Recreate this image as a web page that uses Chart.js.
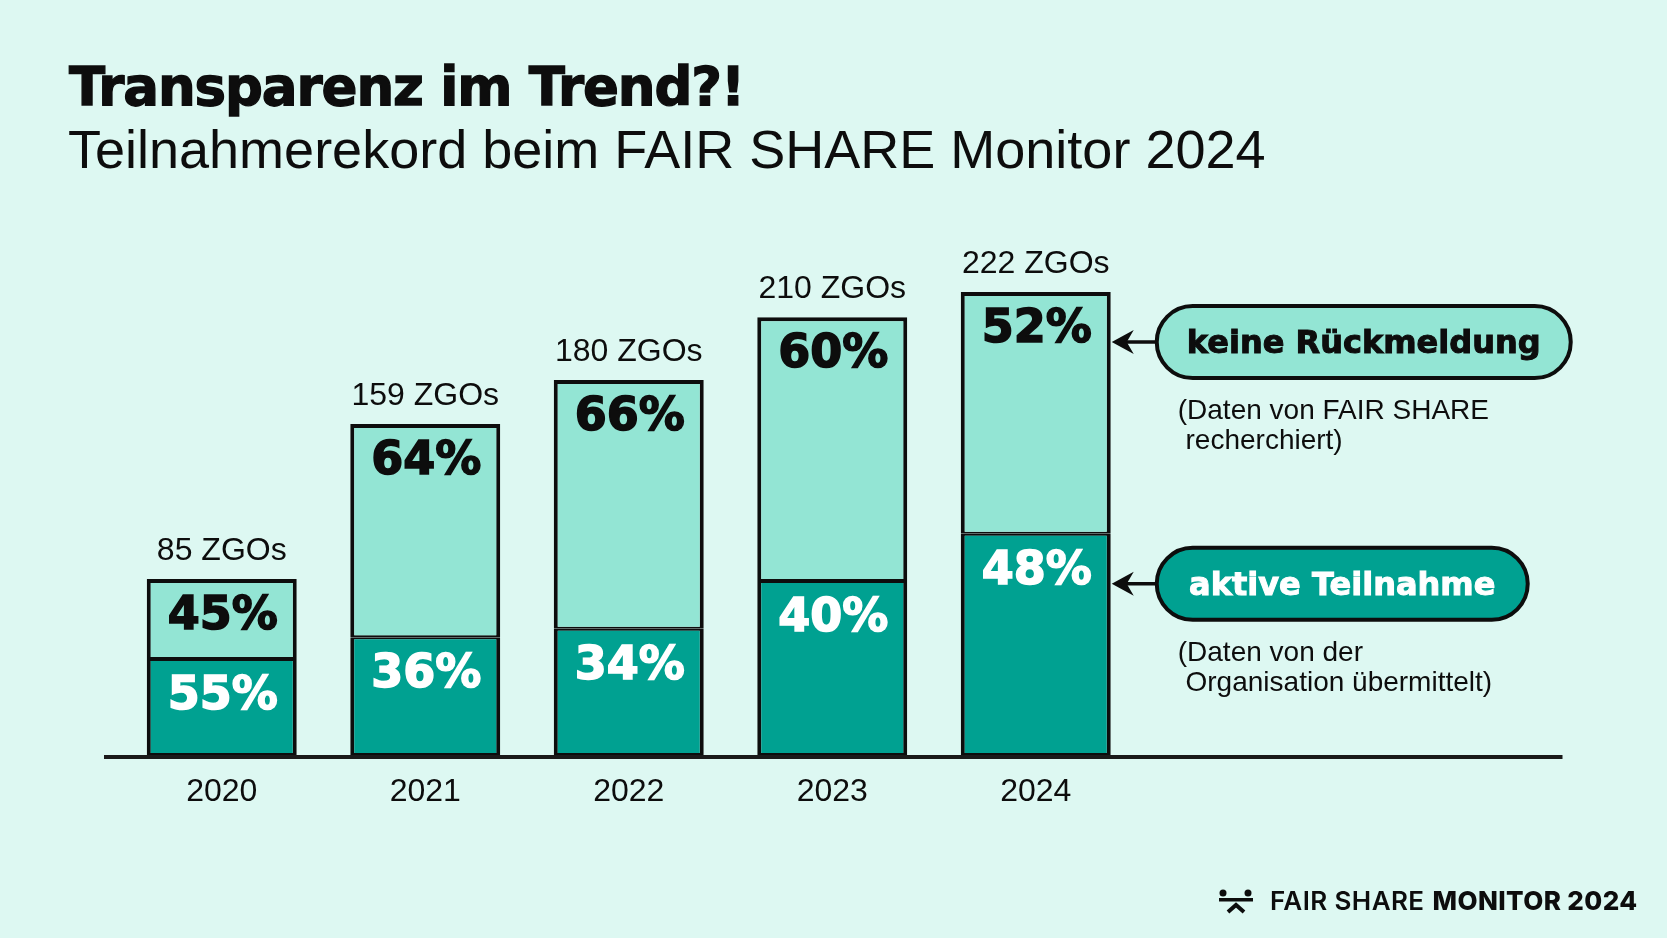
<!DOCTYPE html>
<html lang="de">
<head>
    <meta charset="UTF-8">
    <title>Transparenz im Trend?!</title>
    <style>
        html, body { margin: 0; padding: 0; }
        body {
            width: 1667px; height: 938px; overflow: hidden;
            background: #ddf8f2; position: relative;
            color: #0d0d0d;
        }
        #chart { position: absolute; left: 0; top: 0; }
        .title {
            position: absolute; left: 69px; top: 60px; margin: 0;
            font: bold 53px/53px "DejaVu Sans", sans-serif;
            letter-spacing: -1.1px; -webkit-text-stroke: 1.3px #0d0d0d;
            white-space: nowrap;
        }
        .subtitle {
            position: absolute; left: 68px; top: 122px; margin: 0;
            font: normal 54px/54px "Liberation Sans", sans-serif;
            white-space: nowrap;
        }
        .footer {
            position: absolute; left: 1219px; top: 886px;
            display: flex; align-items: center; white-space: nowrap;
            font: 600 26px/30px Inter, sans-serif; letter-spacing: 0.4px;
        }
        .footer svg { margin-right: 17px; }
        .footer b { font-weight: 800; margin-left: 8px; }
    </style>
</head>
<body>
    <h1 class="title">Transparenz im Trend?!</h1>
    <h2 class="subtitle">Teilnahmerekord beim FAIR SHARE Monitor 2024</h2>

    <canvas id="chart" width="1667" height="938"></canvas>

    <div class="footer">
        <svg width="34" height="26" viewBox="0 0 34 26">
            <circle cx="4" cy="5" r="3.5" fill="#0d0d0d"/>
            <circle cx="29" cy="5" r="3.5" fill="#0d0d0d"/>
            <rect x="0" y="10" width="34" height="3.5" fill="#0d0d0d"/>
            <polyline points="9,24 17,17 25,24" fill="none" stroke="#0d0d0d" stroke-width="4"/>
        </svg>
        <span>FAIR SHARE</span><b>MONITOR 2024</b>
    </div>

    <script src="https://cdn.jsdelivr.net/npm/chart.js@4.4.0/dist/chart.umd.min.js"></script>
    <script>
        // values
        const years = ['2020', '2021', '2022', '2023', '2024'];
        const totals = [85, 159, 180, 210, 222];       // ZGOs per year
        const activePct = [55, 36, 34, 40, 48];        // aktive Teilnahme
        const nonePct = [45, 64, 66, 60, 52];          // keine Rückmeldung

        const DARK = '#00a191';
        const LIGHT = '#93e5d4';
        const INK = '#0d0d0d';

        const activeCount = totals.map((t, i) => t * activePct[i] / 100);
        const noneCount = totals.map((t, i) => t * nonePct[i] / 100);

        const pctFont = 'bold 46px "DejaVu Sans", sans-serif';

        // percent labels in each segment + "xx ZGOs" above each bar
        const barLabels = {
            id: 'barLabels',
            afterDatasetsDraw(chart) {
                const ctx = chart.ctx;
                ctx.save();
                ctx.textAlign = 'center';
                ctx.textBaseline = 'alphabetic';
                chart.data.datasets.forEach((ds, di) => {
                    const meta = chart.getDatasetMeta(di);
                    const pcts = di === 0 ? activePct : nonePct;
                    const col = di === 0 ? '#ffffff' : INK;
                    meta.data.forEach((bar, i) => {
                        ctx.font = pctFont;
                        ctx.fillStyle = col;
                        ctx.strokeStyle = col;
                        ctx.lineWidth = 1.6;
                        ctx.fillText(pcts[i] + '%', bar.x + 1, bar.y + 50);
                        ctx.strokeText(pcts[i] + '%', bar.x + 1, bar.y + 50);
                    });
                });
                const top = chart.getDatasetMeta(1);
                ctx.font = '32px "Liberation Sans", sans-serif';
                ctx.fillStyle = INK;
                top.data.forEach((bar, i) => {
                    ctx.fillText(totals[i] + ' ZGOs', bar.x, bar.y - 19);
                });

                // baseline
                const y0 = chart.scales.y.getPixelForValue(0);
                ctx.strokeStyle = '#1a1a1a';
                ctx.lineWidth = 4;
                ctx.beginPath();
                ctx.moveTo(chart.chartArea.left - 16, y0);
                ctx.lineTo(chart.chartArea.right + 425, y0);
                ctx.stroke();
                ctx.restore();
            }
        };

        // callouts pointing at the last bar
        const callouts = {
            id: 'callouts',
            afterDraw(chart) {
                const ctx = chart.ctx;
                const last = years.length - 1;
                const items = [
                    { ds: 1, text: 'keine Rückmeldung', w: 414, fill: LIGHT, col: INK,
                      note: ['(Daten von FAIR SHARE', ' recherchiert)'] },
                    { ds: 0, text: 'aktive Teilnahme', w: 371, fill: DARK, col: '#ffffff',
                      note: ['(Daten von der', ' Organisation übermittelt)'] }
                ];
                ctx.save();
                items.forEach(it => {
                    const bar = chart.getDatasetMeta(it.ds).data[last];
                    const tipX = bar.x + bar.width / 2 + 1;
                    const y = bar.y + 50;
                    const px = tipX + 45;
                    const h = 72;

                    // arrow
                    ctx.strokeStyle = INK;
                    ctx.fillStyle = INK;
                    ctx.lineWidth = 3.5;
                    ctx.beginPath();
                    ctx.moveTo(tipX + 12, y);
                    ctx.lineTo(px, y);
                    ctx.stroke();
                    ctx.beginPath();
                    ctx.moveTo(tipX, y);
                    ctx.lineTo(tipX + 22, y - 12);
                    ctx.lineTo(tipX + 15, y);
                    ctx.lineTo(tipX + 22, y + 12);
                    ctx.closePath();
                    ctx.fill();

                    // pill
                    ctx.beginPath();
                    ctx.roundRect(px, y - h / 2, it.w, h, h / 2);
                    ctx.fillStyle = it.fill;
                    ctx.fill();
                    ctx.lineWidth = 4;
                    ctx.strokeStyle = INK;
                    ctx.stroke();

                    ctx.textAlign = 'center';
                    ctx.textBaseline = 'alphabetic';
                    ctx.font = 'bold 32px "DejaVu Sans", sans-serif';
                    ctx.fillStyle = it.col;
                    ctx.strokeStyle = it.col;
                    ctx.lineWidth = 1;
                    ctx.fillText(it.text, px + it.w / 2, y + 11);
                    ctx.strokeText(it.text, px + it.w / 2, y + 11);

                    ctx.textAlign = 'left';
                    ctx.font = '28px "Liberation Sans", sans-serif';
                    ctx.fillStyle = INK;
                    ctx.fillText(it.note[0], px + 21, y + 77);
                    ctx.fillText(it.note[1], px + 21, y + 107);
                });
                ctx.restore();
            }
        };

        new Chart(document.getElementById('chart'), {
            type: 'bar',
            data: {
                labels: years,
                datasets: [
                    {
                        label: 'aktive Teilnahme',
                        data: activeCount,
                        backgroundColor: DARK,
                        borderColor: INK,
                        borderWidth: { top: 2, left: 4, right: 4, bottom: 4 },
                        borderSkipped: false
                    },
                    {
                        label: 'keine Rückmeldung',
                        data: noneCount,
                        backgroundColor: LIGHT,
                        borderColor: INK,
                        borderWidth: { top: 4, left: 4, right: 4, bottom: 2 },
                        borderSkipped: false
                    }
                ]
            },
            options: {
                responsive: false,
                animation: false,
                devicePixelRatio: 1,
                layout: { padding: { left: 120, right: 529.5, top: 254.4, bottom: 121 } },
                datasets: { bar: { categoryPercentage: 1, barPercentage: 0.737 } },
                plugins: {
                    legend: { display: false },
                    tooltip: { enabled: false }
                },
                scales: {
                    x: {
                        stacked: true,
                        grid: { display: false, drawTicks: false },
                        border: { display: false },
                        ticks: {
                            color: INK,
                            padding: 16,
                            font: { family: '"Liberation Sans", sans-serif', size: 32 }
                        },
                        afterFit(scale) { scale.height = 60; }
                    },
                    y: {
                        stacked: true,
                        display: false,
                        min: 0,
                        max: 240
                    }
                }
            },
            plugins: [barLabels, callouts]
        });
    </script>
</body>
</html>
